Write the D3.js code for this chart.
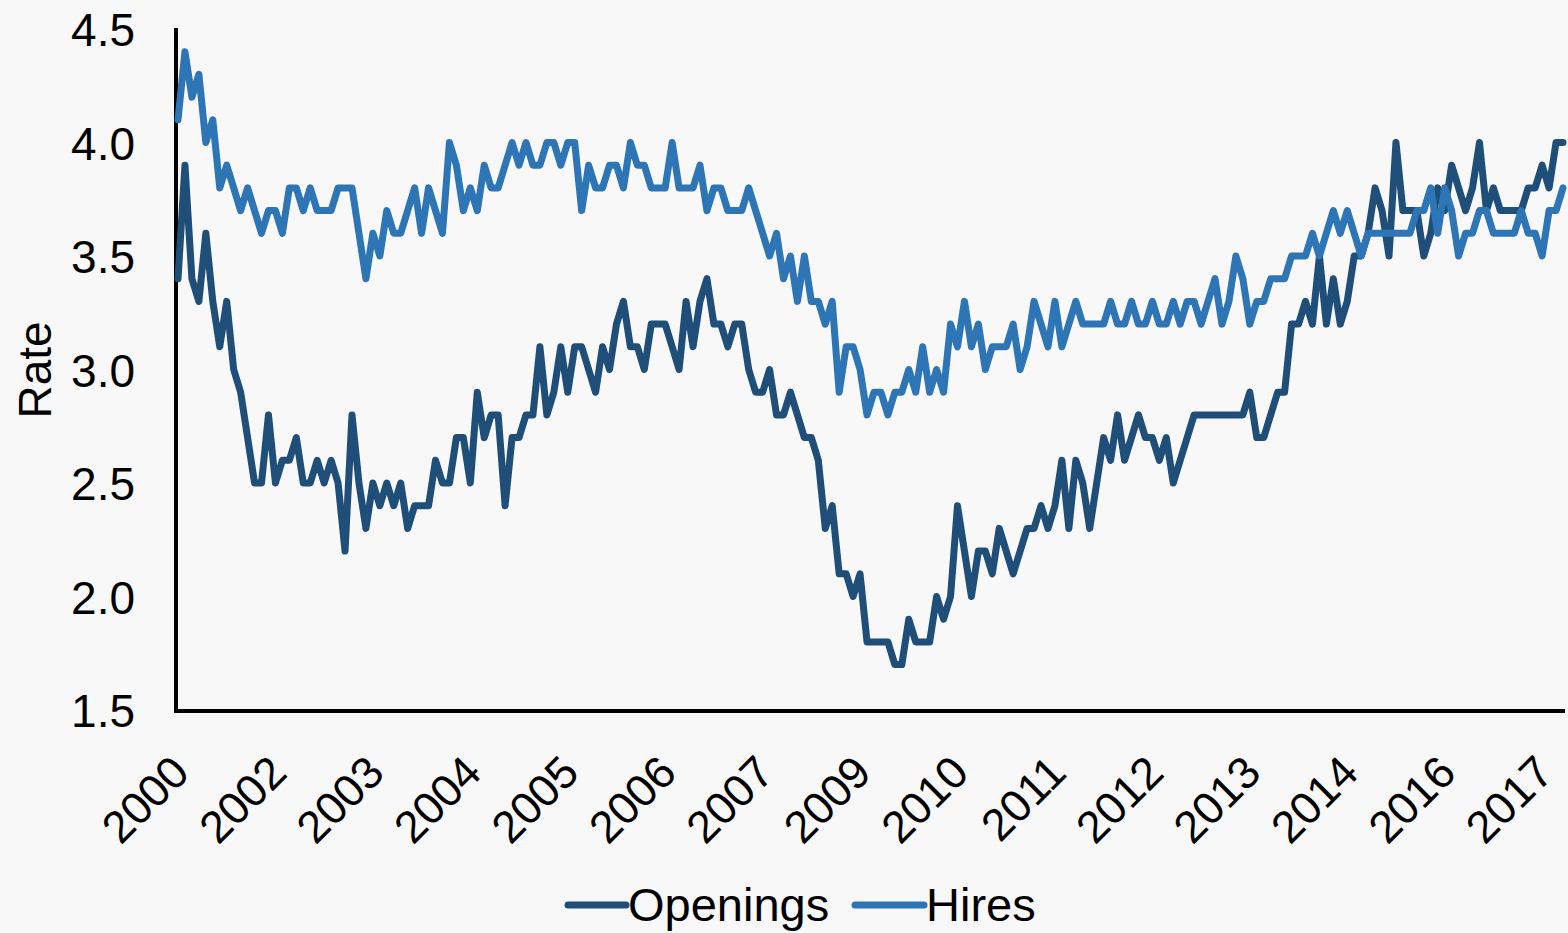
<html>
<head>
<meta charset="utf-8">
<script src="https://d3js.org/d3.v7.min.js"></script>
<style>
  body { margin: 0; background: #f8f8f8; }
  text { font-family: "Liberation Sans", Arial, sans-serif; fill: #000; }
</style>
</head>
<body>
<svg id="chart" width="1568" height="933"></svg>
<script>

// monthly rates, Dec 2000 onward (one value per month)
var openings = [
  3.4, 3.9, 3.4, 3.3, 3.6, 3.3, 3.1, 3.3, 3.0, 2.9, 2.7, 2.5, 2.5, 2.8, 2.5, 2.6, 2.6, 2.7, 2.5, 2.5,
  2.6, 2.5, 2.6, 2.5, 2.2, 2.8, 2.5, 2.3, 2.5, 2.4, 2.5, 2.4, 2.5, 2.3, 2.4, 2.4, 2.4, 2.6, 2.5, 2.5,
  2.7, 2.7, 2.5, 2.9, 2.7, 2.8, 2.8, 2.4, 2.7, 2.7, 2.8, 2.8, 3.1, 2.8, 2.9, 3.1, 2.9, 3.1, 3.1, 3.0,
  2.9, 3.1, 3.0, 3.2, 3.3, 3.1, 3.1, 3.0, 3.2, 3.2, 3.2, 3.1, 3.0, 3.3, 3.1, 3.3, 3.4, 3.2, 3.2, 3.1,
  3.2, 3.2, 3.0, 2.9, 2.9, 3.0, 2.8, 2.8, 2.9, 2.8, 2.7, 2.7, 2.6, 2.3, 2.4, 2.1, 2.1, 2.0, 2.1, 1.8,
  1.8, 1.8, 1.8, 1.7, 1.7, 1.9, 1.8, 1.8, 1.8, 2.0, 1.9, 2.0, 2.4, 2.2, 2.0, 2.2, 2.2, 2.1, 2.3, 2.2,
  2.1, 2.2, 2.3, 2.3, 2.4, 2.3, 2.4, 2.6, 2.3, 2.6, 2.5, 2.3, 2.5, 2.7, 2.6, 2.8, 2.6, 2.7, 2.8, 2.7,
  2.7, 2.6, 2.7, 2.5, 2.6, 2.7, 2.8, 2.8, 2.8, 2.8, 2.8, 2.8, 2.8, 2.8, 2.9, 2.7, 2.7, 2.8, 2.9, 2.9,
  3.2, 3.2, 3.3, 3.2, 3.5, 3.2, 3.4, 3.2, 3.3, 3.5, 3.5, 3.6, 3.8, 3.7, 3.5, 4.0, 3.7, 3.7, 3.7, 3.5,
  3.6, 3.8, 3.7, 3.9, 3.8, 3.7, 3.8, 4.0, 3.7, 3.8, 3.7, 3.7, 3.7, 3.7, 3.8, 3.8, 3.9, 3.8, 4.0, 4.0
];

var hires = [
  4.1, 4.4, 4.2, 4.3, 4.0, 4.1, 3.8, 3.9, 3.8, 3.7, 3.8, 3.7, 3.6, 3.7, 3.7, 3.6, 3.8, 3.8, 3.7, 3.8,
  3.7, 3.7, 3.7, 3.8, 3.8, 3.8, 3.6, 3.4, 3.6, 3.5, 3.7, 3.6, 3.6, 3.7, 3.8, 3.6, 3.8, 3.7, 3.6, 4.0,
  3.9, 3.7, 3.8, 3.7, 3.9, 3.8, 3.8, 3.9, 4.0, 3.9, 4.0, 3.9, 3.9, 4.0, 4.0, 3.9, 4.0, 4.0, 3.7, 3.9,
  3.8, 3.8, 3.9, 3.9, 3.8, 4.0, 3.9, 3.9, 3.8, 3.8, 3.8, 4.0, 3.8, 3.8, 3.8, 3.9, 3.7, 3.8, 3.8, 3.7,
  3.7, 3.7, 3.8, 3.7, 3.6, 3.5, 3.6, 3.4, 3.5, 3.3, 3.5, 3.3, 3.3, 3.2, 3.3, 2.9, 3.1, 3.1, 3.0, 2.8,
  2.9, 2.9, 2.8, 2.9, 2.9, 3.0, 2.9, 3.1, 2.9, 3.0, 2.9, 3.2, 3.1, 3.3, 3.1, 3.2, 3.0, 3.1, 3.1, 3.1,
  3.2, 3.0, 3.1, 3.3, 3.2, 3.1, 3.3, 3.1, 3.2, 3.3, 3.2, 3.2, 3.2, 3.2, 3.3, 3.2, 3.2, 3.3, 3.2, 3.2,
  3.3, 3.2, 3.2, 3.3, 3.2, 3.3, 3.3, 3.2, 3.3, 3.4, 3.2, 3.3, 3.5, 3.4, 3.2, 3.3, 3.3, 3.4, 3.4, 3.4,
  3.5, 3.5, 3.5, 3.6, 3.5, 3.6, 3.7, 3.6, 3.7, 3.6, 3.5, 3.6, 3.6, 3.6, 3.6, 3.6, 3.6, 3.6, 3.7, 3.7,
  3.8, 3.6, 3.8, 3.7, 3.5, 3.6, 3.6, 3.7, 3.7, 3.6, 3.6, 3.6, 3.6, 3.7, 3.6, 3.6, 3.5, 3.7, 3.7, 3.8
];

// category axis shows a label every 14 months
var tickLabels = ["2000", "2002", "2003", "2004", "2005", "2006", "2007", "2009",
                  "2010", "2011", "2012", "2013", "2014", "2016", "2017"];
var tickEvery = 14;

var yTicks = [1.5, 2.0, 2.5, 3.0, 3.5, 4.0, 4.5];

var seriesNames = ["Openings", "Hires"];
var seriesColors = ["#1f4e79", "#2e75b6"];

var svg = d3.select("#chart");

var plotLeft = 176, plotRight = 1563, plotTop = 29, plotBottom = 710;

var months = d3.range(openings.length);

var x = d3.scalePoint()
  .domain(months)
  .range([plotLeft + 2, plotRight]);

var y = d3.scaleLinear()
  .domain([1.5, 4.5])
  .range([plotBottom, plotTop]);

// y axis
var yAxis = svg.append("g")
  .attr("transform", "translate(" + plotLeft + ",0)")
  .call(d3.axisLeft(y)
    .tickValues(yTicks)
    .tickFormat(d3.format(".1f"))
    .tickSize(0)
    .tickSizeOuter(0)
    .tickPadding(41));

yAxis.select(".domain")
  .attr("stroke", "#000")
  .attr("stroke-width", 4)
  .attr("d", "M0," + (plotTop - 1) + "V" + (plotBottom + 3));

yAxis.selectAll("text")
  .style("font-size", "46px")
  .attr("dy", "0.36em");

// x axis
var tickIdx = tickLabels.map(function(d, i) { return i * tickEvery; });

var xAxis = svg.append("g")
  .attr("transform", "translate(0," + (plotBottom + 1) + ")")
  .call(d3.axisBottom(x)
    .tickValues(tickIdx)
    .tickFormat(function(d, i) { return tickLabels[i]; })
    .tickSize(0)
    .tickSizeOuter(0));

xAxis.select(".domain")
  .attr("stroke", "#000")
  .attr("stroke-width", 4)
  .attr("d", "M" + (plotLeft - 2) + ",0H" + (plotRight + 2));

xAxis.selectAll("text")
  .style("font-size", "45px")
  .attr("text-anchor", "end")
  .attr("dy", null)
  .attr("y", 0)
  .attr("transform", "translate(13,64) rotate(-45)");

// lines
var line = d3.line()
  .x(function(d, i) { return x(i); })
  .y(function(d) { return y(d); });

[openings, hires].forEach(function(s, k) {
  svg.append("path")
    .datum(s)
    .attr("fill", "none")
    .attr("stroke", seriesColors[k])
    .attr("stroke-width", 7)
    .attr("stroke-linejoin", "round")
    .attr("stroke-linecap", "round")
    .attr("d", line);
});

// y title
svg.append("text")
  .attr("transform", "translate(51,370) rotate(-90)")
  .attr("text-anchor", "middle")
  .style("font-size", "46px")
  .text("Rate");

// legend
var legendLine = [[568, 626], [855, 924]];
seriesNames.forEach(function(name, k) {
  var g = svg.append("g").attr("transform", "translate(0,905)");
  g.append("line")
    .attr("x1", legendLine[k][0]).attr("x2", legendLine[k][1])
    .attr("stroke", seriesColors[k])
    .attr("stroke-width", 7)
    .attr("stroke-linecap", "round");
  g.append("text")
    .attr("x", legendLine[k][1] + 2)
    .attr("y", 16)
    .style("font-size", "47px")
    .text(name);
});

</script>
</body>
</html>
